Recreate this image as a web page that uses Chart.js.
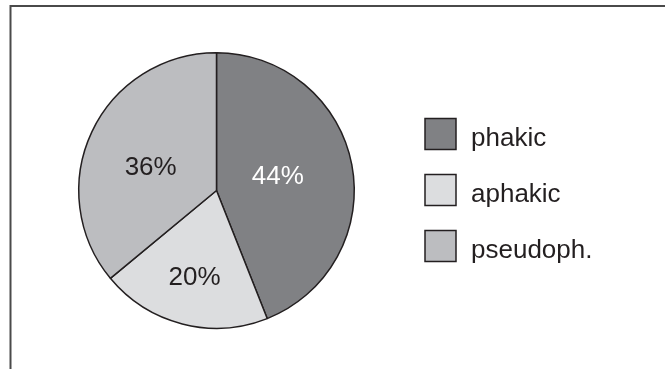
<!DOCTYPE html>
<html>
<head>
<meta charset="utf-8">
<script src="https://cdn.jsdelivr.net/npm/chart.js@4"></script>
<style>
  html, body { margin: 0; padding: 0; background: #fff; }
  #wrap { width: 666px; height: 369px; position: relative; }
</style>
</head>
<body>
<div id="wrap"><canvas id="pieChart" width="666" height="369"></canvas></div>
<script>
// Data
const categories = ["phakic", "aphakic", "pseudoph."];
const shares = [44, 20, 36];
const sliceColors = ["#808184", "#dcdddf", "#bcbdc0"];
const labelColors = ["#ffffff", "#231f20", "#231f20"];

const FONT = "'Liberation Sans', Arial, Helvetica, sans-serif";

// frame: top + left lines only
const framePlugin = {
  id: "frame",
  beforeDraw(chart) {
    const c = chart.ctx;
    c.save();
    c.strokeStyle = "#4a4a4a";
    c.lineWidth = 2;
    c.beginPath();
    c.moveTo(10.5, 369);
    c.lineTo(10.5, 6);
    c.lineTo(665, 6);
    c.stroke();
    c.restore();
  }
};

// percentage labels inside slices
const sliceLabels = {
  id: "sliceLabels",
  afterDatasetsDraw(chart, args, opts) {
    const c = chart.ctx;
    const arcs = chart.getDatasetMeta(0).data;
    const size = 26;
    c.save();
    c.font = `${size}px ${FONT}`;
    c.textAlign = "center";
    c.textBaseline = "alphabetic";
    arcs.forEach((arc, i) => {
      const { x, y, startAngle, endAngle, outerRadius } = arc.getProps(["x", "y", "startAngle", "endAngle", "outerRadius"], true);
      const mid = (startAngle + endAngle) / 2 + opts.shift[i] * Math.PI / 180;
      const r = outerRadius * opts.radius[i];
      c.fillStyle = labelColors[i];
      // centre the digits (cap height ~0.716em) on the point
      c.fillText(shares[i] + "%", x + Math.cos(mid) * r, y + Math.sin(mid) * r + size * 0.358);
    });
    c.restore();
  }
};

// legend drawn by hand to match the boxed look
const boxLegend = {
  id: "boxLegend",
  afterDraw(chart, args, opts) {
    const c = chart.ctx;
    c.save();
    c.font = `26px ${FONT}`;
    c.textBaseline = "alphabetic";
    categories.forEach((name, i) => {
      const y = opts.top + i * opts.step;
      c.fillStyle = sliceColors[i];
      c.fillRect(opts.left, y, opts.box, opts.box);
      c.strokeStyle = "#231f20";
      c.lineWidth = 1.5;
      c.strokeRect(opts.left, y, opts.box, opts.box);
      c.fillStyle = "#231f20";
      c.fillText(name, opts.left + opts.box + 15, y + 27);
    });
    c.restore();
  }
};

const ctx = document.getElementById("pieChart").getContext("2d");
new Chart(ctx, {
  type: "pie",
  data: {
    labels: categories,
    datasets: [{
      data: shares,
      backgroundColor: sliceColors,
      borderColor: "#231f20",
      borderWidth: 1.5
    }]
  },
  options: {
    responsive: false,
    animation: false,
    layout: { padding: { left: 78, right: 311, top: 52, bottom: 40 } },
    plugins: {
      legend: { display: false },
      tooltip: { enabled: false },
      sliceLabels: { radius: [0.46, 0.64, 0.51], shift: [-3.8, 0, -4.8] },
      boxLegend: { left: 425, top: 118.5, step: 56, box: 31 }
    }
  },
  plugins: [framePlugin, sliceLabels, boxLegend]
});
</script>
</body>
</html>
